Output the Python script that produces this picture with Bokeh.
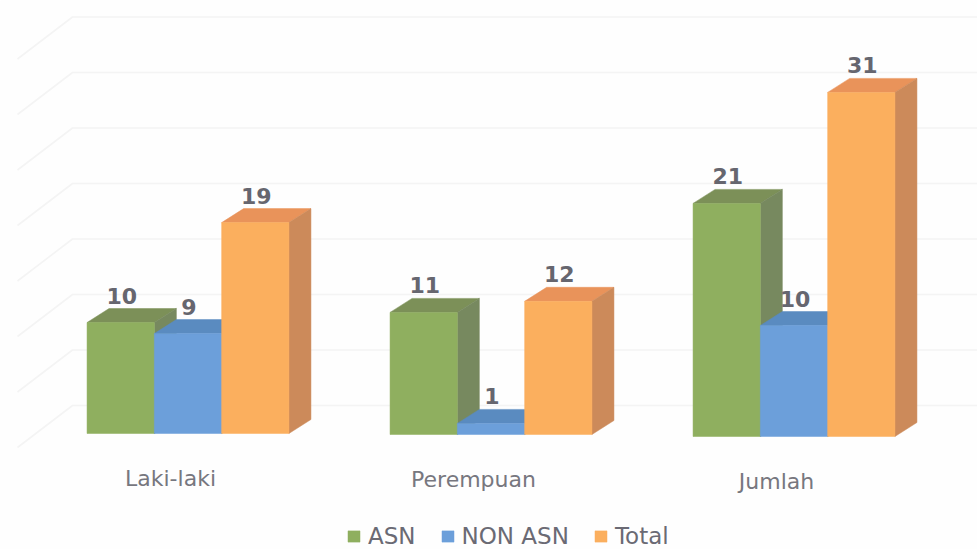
from bokeh.plotting import figure
from bokeh.models import Range1d, Legend, LegendItem
from bokeh.embed import file_html
from bokeh.resources import INLINE
from bokeh.core.properties import value

categories = ["Laki-laki", "Perempuan", "Jumlah"]
series_names = ["ASN", "NON ASN", "Total"]
asn = [10, 11, 21]
non_asn = [9, 1, 10]
total = [19, 12, 31]
grid_values = [0, 5, 10, 15, 20, 25, 30, 35]

front_colors = ["#8FAF5F", "#6C9FDA", "#FBAF5E"]
top_colors = ["#7C9058", "#5A8BC0", "#E9935A"]
side_colors = ["#77895F", "#5A85B5", "#CC8A5A"]
text_color = "#66666F"

W, H = 977, 549
PX_X = 303.0          # pixels per category
PX_Y = 11.1           # pixels per value unit
BAR = 67.3 / PX_X     # bar width in category units
DX = 22 / PX_X        # 3D depth
DY = 14 / PX_Y
WALL_Y = 29 / PX_Y    # back wall base, above the front baseline
tilt = [1 / PX_Y, 0, -2 / PX_Y]  # the scanned page is slightly rotated

p = figure(width=W, height=H, output_backend="svg", toolbar_location=None,
           x_range=Range1d((0 - 187.5) / PX_X, (W - 187.5) / PX_X),
           y_range=Range1d((434 - H) / PX_Y, 434 / PX_Y),
           min_border=0, outline_line_color=None, background_fill_color="#FEFEFE",
           border_fill_color="#FEFEFE")
p.axis.visible = False
p.grid.visible = False

# faint 3D gridlines: front floor edge -> back wall -> right side
gx_left = (17 - 187.5) / PX_X
gx_back = (72 - 187.5) / PX_X
gx_right = (W - 187.5) / PX_X
xs, ys = [], []
for v in grid_values:
    xs.append([gx_left, gx_back, gx_right])
    ys.append([v + WALL_Y - 42 / PX_Y, v + WALL_Y, v + WALL_Y])
p.multi_line(xs, ys, line_color="#F4F4F4", line_width=1.6)

all_series = [asn, non_asn, total]
legend_items = []
for si, vals in enumerate(all_series):
    lefts = [c + (si - 1.5) * BAR for c in range(len(categories))]
    rights = [l + BAR for l in lefts]
    bases = list(tilt)
    tops = [b + v for b, v in zip(bases, vals)]
    # top face
    p.patches([[l, l + DX, r + DX, r] for l, r in zip(lefts, rights)],
              [[t, t + DY, t + DY, t] for t in tops],
              fill_color=top_colors[si], line_color=top_colors[si], line_width=0.5)
    # side face
    p.patches([[r, r + DX, r + DX, r] for r in rights],
              [[b, b + DY, t + DY, t] for b, t in zip(bases, tops)],
              fill_color=side_colors[si], line_color=side_colors[si], line_width=0.5)
    # front face
    q = p.quad(left=lefts, right=rights, bottom=bases, top=tops,
               fill_color=front_colors[si], line_color=front_colors[si], line_width=0.5)
    legend_items.append(LegendItem(label=series_names[si], renderers=[q]))
    # value labels
    p.text([(l + r) / 2 + 1 / PX_X for l, r in zip(lefts, rights)], [t + DY for t in tops],
           text=[str(v) for v in vals], text_align="center", text_baseline="middle",
           y_offset=-13, text_color=text_color, text_font=value("DejaVu Sans"),
           text_font_size="22px", text_font_style="bold")

# category labels
p.text([c - 17.5 / PX_X for c in range(len(categories))],
       [t - 45 / PX_Y for t in tilt], text=categories,
       text_align="center", text_baseline="middle", text_color="#77777F",
       text_font=value("DejaVu Sans"), text_font_size="22px")

legend = Legend(items=legend_items, orientation="horizontal", location=(346, 0),
                glyph_width=15, glyph_height=14, label_standoff=7, spacing=24,
                padding=0, margin=0, border_line_color=None, background_fill_alpha=0,
                label_text_font="DejaVu Sans", label_text_font_size="23px",
                label_text_color="#6A6A74")
p.add_layout(legend)

open("out.html", "w").write(file_html(p, INLINE))
